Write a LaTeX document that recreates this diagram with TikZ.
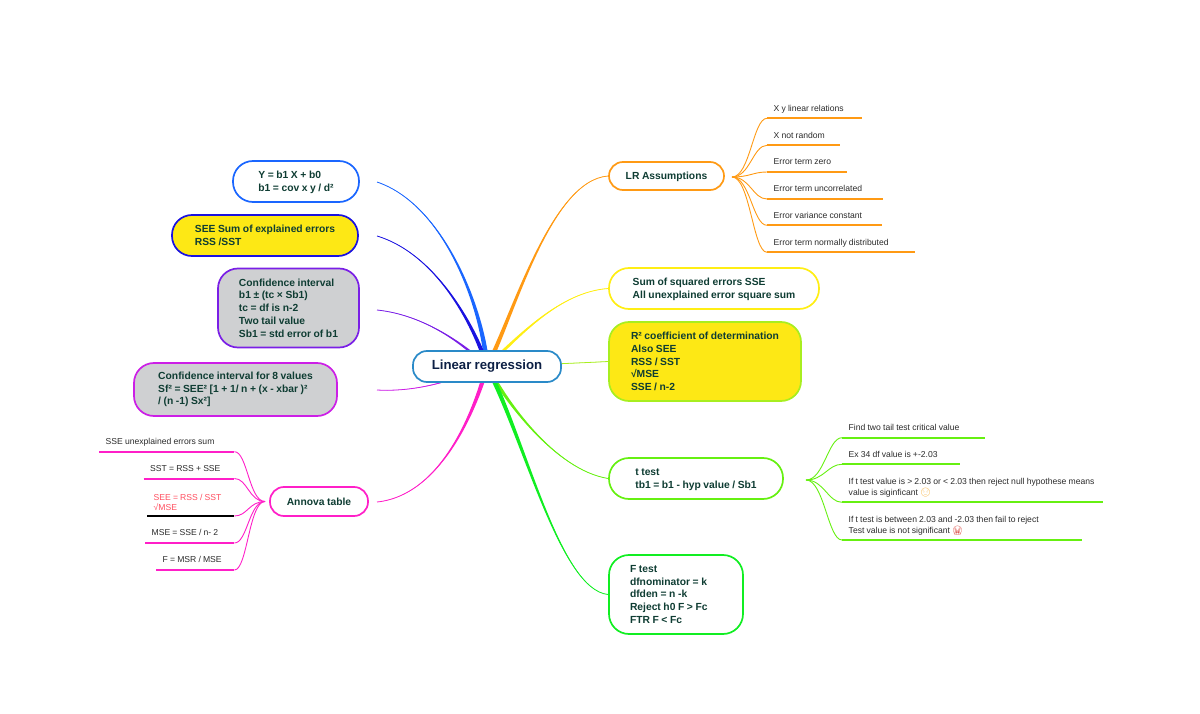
\documentclass[tikz,border=0pt]{standalone}
\usepackage{fontspec}
\setmainfont[WordSpace=0.9]{Liberation Sans}
\newfontfamily\emojifont{Noto Emoji}
\usepackage{tikz}
\usetikzlibrary{backgrounds}
\definecolor{inkgreen}{HTML}{0F3D33}
\definecolor{inknavy}{HTML}{0D2045}
\definecolor{inkleaf}{HTML}{2B2B2B}
\definecolor{rootblue}{HTML}{2A8AC8}
\definecolor{cblue}{HTML}{1A66FF}
\definecolor{cindigo}{HTML}{1A12E0}
\definecolor{cviolet}{HTML}{7A1FE6}
\definecolor{cpurple}{HTML}{CC1FE6}
\definecolor{cpink}{HTML}{FF1FC8}
\definecolor{corange}{HTML}{FF9A14}
\definecolor{cyellow}{HTML}{FFEE14}
\definecolor{clime}{HTML}{A8EE20}
\definecolor{cgreen}{HTML}{66F011}
\definecolor{cmint}{HTML}{11EE22}
\definecolor{fillyellow}{HTML}{FDE815}
\definecolor{fillgrey}{HTML}{CFD0D2}
\definecolor{cred}{HTML}{FF4D5E}
\definecolor{emojisun}{HTML}{F5A623}
\definecolor{emojicry}{HTML}{D8433B}
\tikzset{
  topicbox/.style={draw, line width=1.7pt, fill=white, rounded corners=20pt, inner sep=0pt,
    align=flush left, text=inkgreen, font=\fontsize{10.3}{12.7}\selectfont\bfseries},
  shortbox/.style={topicbox, text depth=0pt},
  rootbox/.style={draw=rootblue, line width=1.7pt, fill=white, rounded corners=14pt, inner sep=0pt, align=center,
    text=inknavy, font=\fontsize{13.2}{16}\selectfont\bfseries},
  leafnode/.style={inner xsep=6.5pt, inner ysep=5pt, align=flush left, text=inkleaf, font=\fontsize{8.6}{10.6}\selectfont},
  oneleaf/.style={leafnode, text depth=1.9pt},
  leafrule/.style={line width=2pt},
  twig/.style={line width=.9pt}
}
\newcommand{\branch}[5]{%
  \draw[#1, line width=.8pt] (#2) .. controls (#3) and (#4) .. (#5);
  \fill[#1] ([xshift=-2.6pt]#2) .. controls ([xshift=-1.6pt]#3) and ([xshift=-.4pt]#4) .. (#5)
    .. controls ([xshift=.4pt]#4) and ([xshift=1.6pt]#3) .. ([xshift=2.6pt]#2) -- cycle;
}
\newcommand{\rightleaf}[3]{%
  \draw[#1, leafrule] (#3.south west) -- (#3.south east);
  \draw[#1, twig] (#2) .. controls +(18,0) and ([xshift=-14pt]#3.south west) .. (#3.south west);
}
\newcommand{\leftleaf}[4]{%
  \draw[#2, leafrule] (#4.south west) -- (#4.south east);
  \draw[#1, twig] (#3) .. controls +(-16,0) and ([xshift=13pt]#4.south east) .. (#4.south east);
}
\begin{document}
\begin{tikzpicture}[x=1pt, y=-1pt]
  \useasboundingbox (0,0) rectangle (1200,714);

  % centre
  \node[rootbox, minimum width=148pt, minimum height=31pt] (root) at (487,366.5) {Linear regression};

  % left side
  \node[shortbox, draw=cblue, minimum width=126pt, minimum height=41pt] (slope) at (296,181.5) {Y = b1 X + b0\\b1 = cov x y / d²};
  \node[shortbox, draw=cindigo, fill=fillyellow, minimum width=186pt, minimum height=41pt] (see) at (265,235.5) {SEE Sum of explained errors\\RSS /SST};
  \node[topicbox, draw=cviolet, fill=fillgrey, minimum width=141pt, minimum height=79pt] (conf) at (288.5,308) {Confidence interval\\b1 ± (tc × Sb1)\\tc = df is n-2\\Two tail value\\Sb1 = std error of b1};
  \node[topicbox, draw=cpurple, fill=fillgrey, minimum width=203pt, minimum height=53pt] (confeight) at (235.5,389.5) {Confidence interval for 8 values\\Sf² = SEE² [1 + 1/ n + (x - xbar )²\\/ (n -1) Sx²]};
  \node[topicbox, draw=cpink, rounded corners=14pt, minimum width=98pt, minimum height=29pt] (anova) at (319,501.5) {Annova table};

  % right side
  \node[shortbox, draw=corange, rounded corners=14pt, minimum width=115pt, minimum height=28pt] (assume) at (666.5,176) {LR Assumptions};
  \node[shortbox, draw=cyellow, minimum width=210pt, minimum height=41pt] (sse) at (714,288.5) {Sum of squared errors SSE\\All unexplained error square sum};
  \node[topicbox, draw=clime, fill=fillyellow, minimum width=192pt, minimum height=79pt] (rsq) at (705,361.5) {R² coefficient of determination\\Also SEE\\RSS / SST\\√MSE\\SSE / n-2};
  \node[shortbox, draw=cgreen, minimum width=174pt, minimum height=41pt] (ttest) at (696,478.5) {t test\\tb1 = b1 - hyp value / Sb1};
  \node[topicbox, draw=cmint, text width=92pt, inner xsep=21pt, minimum height=79pt] (ftest) at (676,594.5) {F test\\dfnominator = k\\dfden = n -k\\Reject h0 F > Fc\\FTR F < Fc};

  % free ends of the branches
  \coordinate (slopeend) at (377,182);
  \coordinate (seeend) at (377,236);
  \coordinate (confend) at (377,310);
  \coordinate (confeightend) at (377,390);
  \coordinate (anovaend) at (377,502);
  \coordinate (assumehub) at (732,177);
  \coordinate (anovahub) at (265,501.5);
  \coordinate (ttesthub) at (806,480);

  % leaves of LR Assumptions
  \node[oneleaf, text width=82pt, anchor=south west] (xylin) at (767,118.3) {X y linear relations};
  \node[oneleaf, text width=60pt, anchor=south west] (xrand) at (767,145.3) {X not random};
  \node[oneleaf, text width=67pt, anchor=south west] (zero) at (767,172) {Error term zero};
  \node[oneleaf, text width=103pt, anchor=south west] (uncor) at (767,199) {Error term uncorrelated};
  \node[oneleaf, text width=101.5pt, anchor=south west] (varconst) at (767,225.3) {Error variance constant};
  \node[oneleaf, text width=135pt, anchor=south west] (normal) at (767,252.3) {Error term normally distributed};

  % leaves of t test
  \node[oneleaf, text width=130pt, anchor=south west] (crit) at (842,437.7) {Find two tail test critical value};
  \node[oneleaf, text width=105pt, anchor=south west] (dfval) at (842,464.3) {Ex 34 df value is +-2.03};
  \node[leafnode, text width=248pt, anchor=south west] (reject) at (842,502.3) {\mbox{If t test value is > 2.03 or < 2.03 then reject null hypothese means}\\value is siginficant {\emojifont\textcolor{emojisun}{😌}}};
  \node[leafnode, text width=227pt, anchor=south west] (fail) at (842,540) {If t test is between 2.03 and -2.03 then fail to reject\\Test value is not significant {\emojifont\textcolor{emojicry}{😭}}};

  % leaves of Annova table
  \node[oneleaf, text width=122pt, anchor=south west] (unexpl) at (99,451.7) {SSE unexplained errors sum};
  \node[oneleaf, text width=77.5pt, anchor=south west] (sst) at (143.5,478.5) {SST = RSS + SSE};
  \node[leafnode, text=cred, text width=74pt, anchor=south west] (seerss) at (147,516) {SEE = RSS / SST\\√MSE};
  \node[oneleaf, text width=76pt, anchor=south west] (mse) at (145,543) {MSE = SSE / n- 2};
  \node[oneleaf, text width=65pt, anchor=south west] (fmsr) at (156,570) {F = MSR / MSE};

  \begin{scope}[on background layer]
    \branch{cblue}{root.center}{483,310}{445,205}{slopeend}
    \branch{cindigo}{root.center}{478,335}{440,255}{seeend}
    \branch{cviolet}{root.center}{465,345}{425,315}{confend}
    \branch{cpurple}{root.center}{450,382}{415,392}{confeightend}
    \branch{cpink}{root.center}{478,400}{445,495}{anovaend}
    \branch{corange}{root.center}{512,320}{550,180}{assume.west}
    \branch{cyellow}{root.center}{520,335}{560,292}{sse.west}
    \branch{clime}{root.center}{530,365}{580,363}{rsq.west}
    \branch{cgreen}{root.center}{505,400}{555,470}{ttest.west}
    \branch{cmint}{root.center}{525,440}{560,590}{ftest.west}
  \end{scope}

  \rightleaf{corange}{assumehub}{xylin}
  \rightleaf{corange}{assumehub}{xrand}
  \rightleaf{corange}{assumehub}{zero}
  \rightleaf{corange}{assumehub}{uncor}
  \rightleaf{corange}{assumehub}{varconst}
  \rightleaf{corange}{assumehub}{normal}

  \rightleaf{cgreen}{ttesthub}{crit}
  \rightleaf{cgreen}{ttesthub}{dfval}
  \rightleaf{cgreen}{ttesthub}{reject}
  \rightleaf{cgreen}{ttesthub}{fail}

  \leftleaf{cpink}{cpink}{anovahub}{unexpl}
  \leftleaf{cpink}{cpink}{anovahub}{sst}
  \leftleaf{cpink}{black}{anovahub}{seerss}
  \leftleaf{cpink}{cpink}{anovahub}{mse}
  \leftleaf{cpink}{cpink}{anovahub}{fmsr}
\end{tikzpicture}
\end{document}
